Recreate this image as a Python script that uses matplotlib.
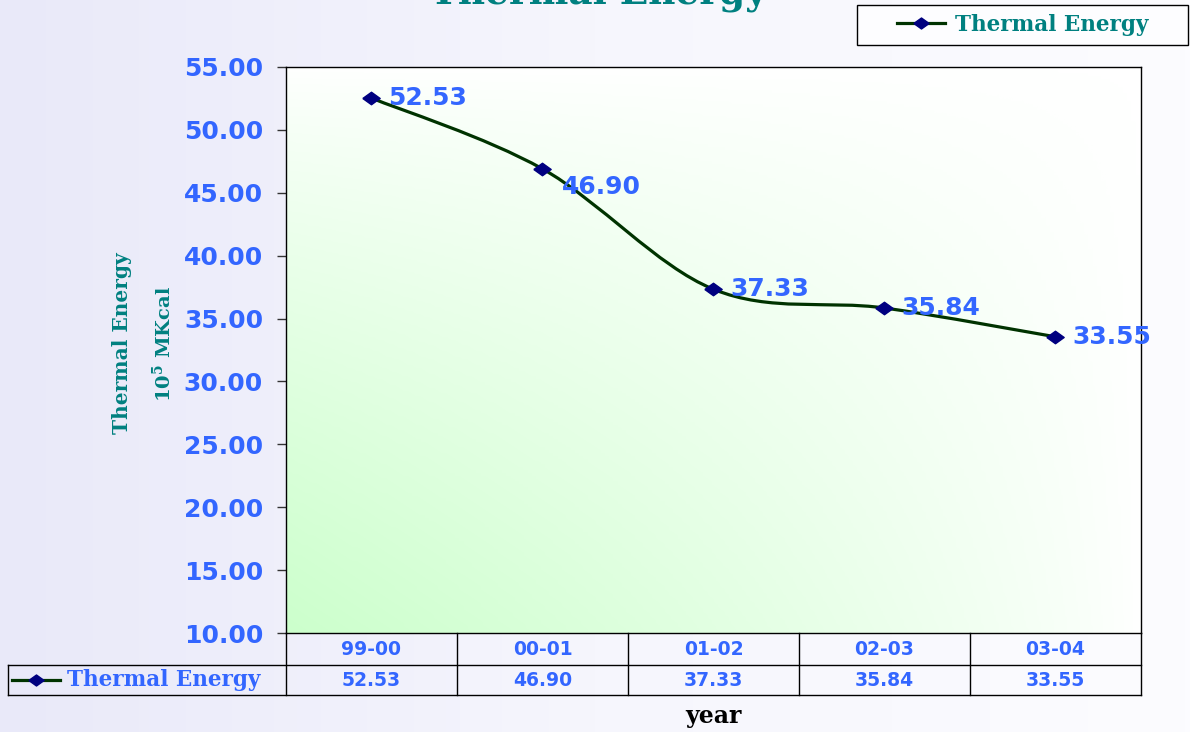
#%% Base
import numpy as np
import matplotlib
matplotlib.use('Agg')
import matplotlib.pyplot as plt
import matplotlib.transforms as mtransforms
from matplotlib.path import Path
from matplotlib.patches import PathPatch, Rectangle
from matplotlib.lines import Line2D
from matplotlib.colors import LinearSegmentedColormap

plt.rcParams['mathtext.fontset'] = 'dejavuserif'

# Chart data
years = ['99-00', '00-01', '01-02', '02-03', '03-04']   # financial years
thermal = [52.53, 46.90, 37.33, 35.84, 33.55]           # thermal energy, 10^5 MKcal
series_name = 'Thermal Energy'
y_ticks = [10, 15, 20, 25, 30, 35, 40, 45, 50, 55]

# Colours
teal = '#008080'
blue = '#3366FF'
line_green = '#003300'
navy = '#000080'
serif_bold = dict(family='DejaVu Serif', weight='bold')

# Diamond marker, a bit wider than tall
diamond = [(-1, 0), (0, 0.72), (1, 0), (0, -0.72), (-1, 0)]

fig = plt.figure(figsize=(11.9, 7.32), dpi=100)
fig.patch.set_facecolor('#f8f8fe')

# Figure background gradient (lavender at left)
bg = fig.add_axes([0, 0, 1, 1], zorder=-10)
bg_cmap = LinearSegmentedColormap.from_list('bg', ['#e9e9f9', '#f6f6fd', '#fcfcff'])
bg.imshow(np.linspace(0, 1, 256)[None, :], cmap=bg_cmap, aspect='auto', extent=[0, 1, 0, 1])
bg.axis('off')

# Plot area
ax = fig.add_axes([0.2403, 0.1352, 0.7185, 0.7733])
ax.set_xlim(-0.5, len(years) - 0.5)
ax.set_ylim(y_ticks[0], y_ticks[-1])

# Green plot-area gradient (bottom-left -> white)
u, w = np.meshgrid(np.linspace(0, 1, 200), np.linspace(0, 1, 200))
shade = ((1 - u) * (1 - w)) ** 0.8
green_cmap = LinearSegmentedColormap.from_list('gr', ['#ffffff', '#ccffcc'])
ax.imshow(shade, cmap=green_cmap, origin='lower', aspect='auto', extent=[0, 1, 0, 1],
          transform=ax.transAxes, zorder=0)

# Smoothed line through the points (Catmull-Rom as cubic Bezier)
xs = np.arange(len(thermal))
pts = np.column_stack([xs, thermal]).astype(float)
n = len(pts)
verts = [pts[0]]
codes = [Path.MOVETO]
for i in range(n - 1):
    p0 = pts[max(i - 1, 0)]
    p1 = pts[i]
    p2 = pts[i + 1]
    p3 = pts[min(i + 2, n - 1)]
    verts += [p1 + (p2 - p0) / 6, p2 - (p3 - p1) / 6, p2]
    codes += [Path.CURVE4] * 3
ax.add_patch(PathPatch(Path(verts, codes), facecolor='none', edgecolor=line_green, lw=2.3, zorder=3))
ax.plot(xs, thermal, ls='none', marker=diamond, ms=12.5, color=navy, zorder=4)

# Data labels (offsets in points)
label_offsets = [(12, 0), (14, -13), (12, 0), (12, 0), (12, 0)]
for i, v in enumerate(thermal):
    ax.annotate(f'{v:.2f}', (xs[i], v), xytext=label_offsets[i], textcoords='offset points',
                ha='left', va='center', color=blue, fontsize=18, fontweight='bold', zorder=5)

# Axes styling
ax.set_yticks(y_ticks)
ax.set_yticklabels([f'{t:.2f}' for t in y_ticks], color=blue, fontsize=18, fontweight='bold')
ax.tick_params(axis='y', direction='out', length=6.5, width=1, color='#333333', pad=10)
ax.set_xticks([])
for sp in ax.spines.values():
    sp.set_color('black')
    sp.set_linewidth(1)

# Data table below the plot
h1 = 32 / 566
h2 = 62 / 566
left = -0.325
trans = mtransforms.blended_transform_factory(ax.transData, ax.transAxes)
for b in np.arange(-0.5, len(years)):
    ax.plot([b, b], [0, -h2], transform=trans, clip_on=False, color='black', lw=1)
for yy in (-h1, -h2):
    ax.plot([left, 1], [yy, yy], transform=ax.transAxes, clip_on=False, color='black', lw=1)
ax.plot([left, left], [-h1, -h2], transform=ax.transAxes, clip_on=False, color='black', lw=1)
for i, yr in enumerate(years):
    ax.text(i, -h1 / 2, yr, transform=trans, ha='center', va='center',
            color=blue, fontsize=13.5, fontweight='bold')
    ax.text(i, -(h1 + h2) / 2, f'{thermal[i]:.2f}', transform=trans, ha='center', va='center',
            color=blue, fontsize=13.5, fontweight='bold')
row_y = -(h1 + h2) / 2
ax.add_line(Line2D([-0.3205, -0.2643], [row_y, row_y], transform=ax.transAxes, clip_on=False,
                   color=line_green, lw=2.3))
ax.plot([-0.2924], [row_y], transform=ax.transAxes, clip_on=False, marker=diamond, ms=11, color=navy)
ax.text(-0.256, row_y, series_name, transform=ax.transAxes, ha='left', va='center',
        color=blue, fontsize=15.5, **serif_bold)

# Axis titles
ax.text(2, -(716 - 633) / 566, 'year', transform=trans, ha='center', va='center',
        color='black', fontsize=17, **serif_bold)
fig.text(122 / 1190, 1 - 343 / 732, 'Thermal Energy', rotation=90, ha='center', va='center',
         color=teal, fontsize=14.5, **serif_bold)
fig.text(163 / 1190, 1 - 344 / 732, r'10$^{\mathbf{5}}$ MKcal', rotation=90, ha='center', va='center',
         color=teal, fontsize=14, **serif_bold)

# Chart title (mostly above the canvas)
fig.text(0.503, 1 - 4 / 732, 'Thermal Energy', ha='center', va='baseline',
         color=teal, fontsize=27, **serif_bold)

# Legend box at top right
fig.patches.append(Rectangle((857 / 1190, 1 - 45 / 732), (1188 - 857) / 1190, 40 / 732,
                             transform=fig.transFigure, facecolor='#fdfdff', edgecolor='black', lw=1))
handle = Line2D([], [], color=line_green, lw=2.3, marker=diamond, ms=11, mfc=navy, mec=navy)
fig.legend(handles=[handle], labels=[series_name], loc='center', bbox_to_anchor=(1023 / 1190, 1 - 25 / 732),
           frameon=False, prop=dict(family='DejaVu Serif', weight='bold', size=15.5), labelcolor=teal,
           handlelength=2.2, handletextpad=0.5)

fig.savefig('out.png', dpi=100)
